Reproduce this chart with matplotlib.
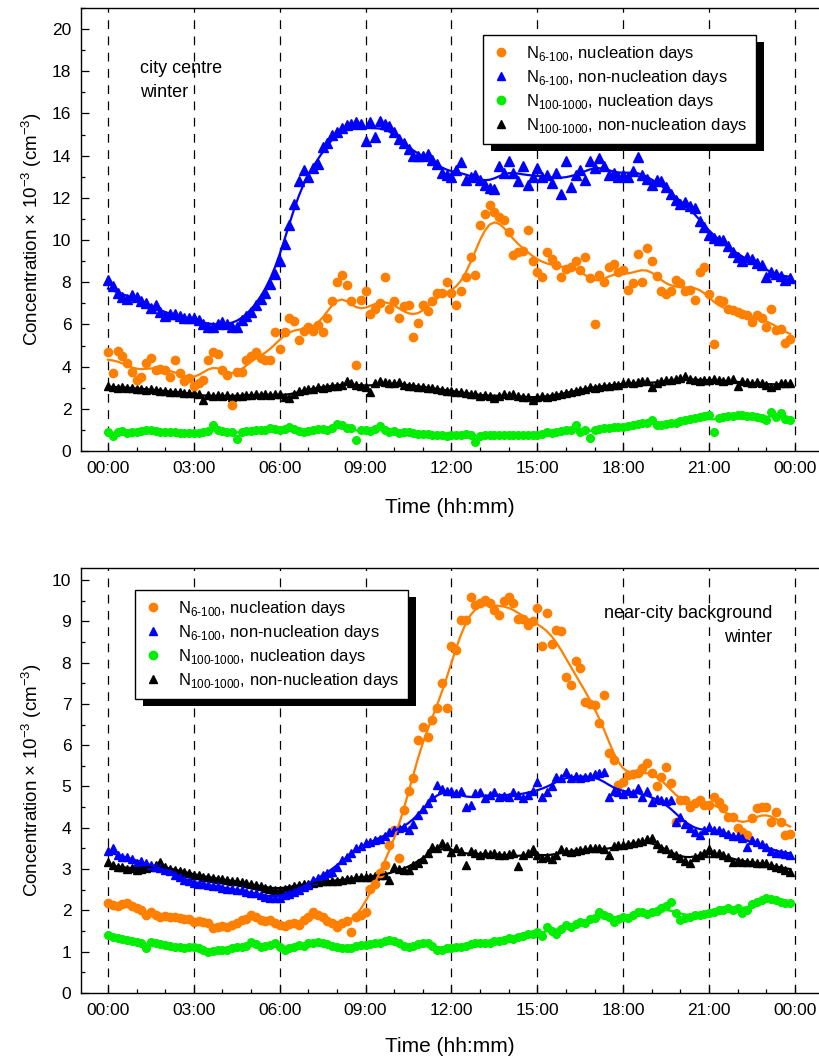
import numpy as np
import matplotlib
matplotlib.use("Agg")
import matplotlib.pyplot as plt
from matplotlib.patches import Rectangle
from matplotlib.transforms import IdentityTransform
from matplotlib.ticker import MultipleLocator

plt.rcParams['font.family'] = ['Liberation Sans', 'DejaVu Sans']
plt.rcParams['mathtext.fontset'] = 'custom'
plt.rcParams['mathtext.rm'] = 'Liberation Sans'

# 10-minute time stamps (hours)
t = np.arange(144) / 6.0
hour_ticks = [0, 3, 6, 9, 12, 15, 18, 21, 24]
hour_labels = ['00:00', '03:00', '06:00', '09:00', '12:00', '15:00', '18:00', '21:00', '00:00']

# ---- city centre, winter ----
cc_n6_nuc = [4.7, 3.7, 4.75, 4.5, 4.15, 3.75, 3.35, 3.5, 4.15, 4.4, 3.85, 3.9,
             3.85, 3.5, 4.3, 3.7, 3.3, 3.45, 3.1, 3.2, 3.35, 4.3, 4.7, 4.6,
             3.85, 3.6, 2.2, 3.75, 3.75, 4.3, 4.5, 4.7, 4.4, 4.3, 4.3, 5.65,
             4.85, 5.65, 6.3, 6.15, 5.25, 5.7, 5.9, 5.7, 5.95, 5.65, 6.3, 7.1,
             8.0, 8.35, 7.85, 7.1, 4.1, 7.15, 7.6, 6.5, 6.75, 7.0, 8.25, 6.75,
             7.1, 6.3, 6.85, 6.9, 5.4, 6.05, 6.9, 6.65, 7.1, 7.5, 7.5, 8.0,
             7.5, 6.9, 7.6, 8.25, 9.2, 8.35, 10.7, 11.25, 11.65, 11.35, 11.1, 10.95,
             10.4, 9.3, 9.45, 9.5, 10.5, 9.0, 8.5, 8.25, 9.45, 9.1, 8.8, 8.25,
             8.65, 8.7, 9.0, 8.6, 9.2, 8.2, 6.0, 8.35, 8.0, 8.7, 8.85, 8.5,
             8.6, 7.65, 7.95, 9.35, 8.0, 9.6, 9.0, 8.3, 7.6, 7.45, 7.6, 8.1,
             7.95, 7.6, 7.65, 7.15, 8.5, 8.7, 7.45, 5.05, 7.15, 7.1, 6.75, 6.7,
             6.6, 6.5, 6.45, 6.1, 6.45, 6.3, 5.9, 6.75, 5.75, 5.8, 5.1, 5.3]
cc_n6_non = [8.1, 7.8, 7.5, 7.3, 7.2, 7.4, 7.3, 7.1, 7.0, 6.8, 6.9, 6.6,
             6.4, 6.5, 6.5, 6.4, 6.3, 6.3, 6.3, 6.2, 6.0, 5.9, 5.9, 6.0,
             6.1, 6.0, 5.9, 5.9, 6.2, 6.4, 6.6, 6.9, 7.2, 7.5, 7.9, 8.4,
             9.0, 9.8, 10.7, 11.7, 12.8, 13.3, 13.0, 13.4, 13.6, 14.4, 14.6, 15.0,
             15.1, 15.3, 15.45, 15.5, 15.6, 15.5, 14.7, 15.6, 14.9, 15.65, 15.5, 15.4,
             15.1, 14.8, 14.6, 14.3, 14.0, 14.0, 14.0, 14.1, 13.8, 13.6, 13.2, 13.1,
             13.0, 13.3, 13.7, 12.85, 13.0, 13.1, 12.85, 12.6, 12.45, 12.4, 13.5, 13.2,
             13.75, 13.2, 12.8, 13.5, 12.6, 13.0, 13.4, 13.0, 13.1, 12.7, 13.2, 12.2,
             13.75, 12.5, 13.1, 13.3, 12.85, 13.75, 13.4, 13.9, 13.5, 13.1, 13.2, 13.0,
             13.1, 13.0, 13.25, 13.95, 13.1, 12.9, 12.6, 12.85, 12.8, 12.5, 12.2, 11.9,
             11.7, 11.8, 11.6, 11.5, 10.9, 10.6, 10.25, 10.1, 10.0, 10.0, 9.7, 9.45,
             9.2, 9.0, 9.2, 9.1, 8.9, 8.8, 8.25, 8.5, 8.4, 8.3, 8.1, 8.2]
cc_n100_nuc = [0.92, 0.7, 0.9, 0.95, 0.83, 0.88, 0.9, 0.95, 0.99, 1.0, 0.95, 0.92,
               0.9, 0.9, 0.88, 0.85, 0.87, 0.85, 0.83, 0.85, 0.9, 0.95, 1.23, 1.0,
               0.95, 0.92, 0.92, 0.55, 0.92, 0.95, 0.97, 1.0, 1.0, 1.0, 1.07, 1.05,
               1.0, 1.05, 1.15, 1.05, 0.95, 0.9, 0.95, 1.0, 1.05, 1.05, 1.0, 1.1,
               1.3, 1.25, 1.1, 1.07, 0.52, 1.0, 1.0, 0.95, 1.05, 1.17, 1.0, 0.9,
               0.95, 0.87, 0.9, 0.88, 0.85, 0.82, 0.8, 0.82, 0.78, 0.78, 0.75, 0.72,
               0.76, 0.78, 0.75, 0.8, 0.78, 0.45, 0.72, 0.76, 0.75, 0.78, 0.76, 0.74,
               0.75, 0.78, 0.74, 0.76, 0.75, 0.78, 0.76, 0.8, 0.9, 0.85, 0.9, 0.95,
               0.98, 1.0, 1.22, 0.9, 1.0, 0.6, 0.99, 1.05, 1.1, 1.08, 1.12, 1.12,
               1.15, 1.2, 1.25, 1.3, 1.32, 1.35, 1.47, 1.25, 1.23, 1.3, 1.32, 1.35,
               1.4, 1.45, 1.5, 1.55, 1.6, 1.65, 1.7, 0.9, 1.55, 1.6, 1.65, 1.68,
               1.7, 1.7, 1.68, 1.65, 1.6, 1.55, 1.47, 1.86, 1.6, 1.8, 1.5, 1.47]
cc_n100_non = [3.1, 3.05, 3.0, 3.05, 3.0, 3.0, 2.95, 2.95, 2.9, 2.95, 2.9, 2.85,
               2.85, 2.8, 2.8, 2.8, 2.75, 2.75, 2.75, 2.7, 2.4, 2.65, 2.6, 2.65,
               2.6, 2.65, 2.55, 2.6, 2.6, 2.65, 2.65, 2.7, 2.65, 2.7, 2.65, 2.7,
               2.7, 2.55, 2.5, 2.7, 2.85, 2.9, 2.95, 2.95, 3.05, 3.0, 3.05, 3.1,
               3.1, 3.15, 3.3, 3.2, 3.15, 3.1, 3.05, 2.8, 3.2, 3.3, 3.25, 3.2,
               3.2, 3.25, 3.15, 3.1, 3.1, 3.05, 3.05, 3.0, 3.0, 2.95, 2.9, 2.85,
               2.85, 2.8, 2.8, 2.75, 2.7, 2.7, 2.6, 2.65, 2.6, 2.5, 2.6, 2.7,
               2.65, 2.7, 2.6, 2.55, 2.55, 2.4, 2.55, 2.6, 2.55, 2.6, 2.65, 2.7,
               2.75, 2.8, 2.85, 2.9, 2.95, 3.05, 3.0, 3.05, 3.1, 3.1, 3.15, 3.15,
               3.2, 3.25, 3.2, 3.25, 3.3, 3.3, 3.05, 3.2, 3.3, 3.35, 3.35, 3.4,
               3.45, 3.55, 3.4, 3.35, 3.3, 3.35, 3.35, 3.4, 3.35, 3.3, 3.35, 3.4,
               3.1, 3.3, 3.25, 3.2, 3.25, 3.2, 3.15, 3.05, 3.15, 3.2, 3.2, 3.2]

# ---- near-city background, winter ----
bg_n6_nuc = [2.17, 2.13, 2.1, 2.15, 2.17, 2.1, 2.05, 2.01, 1.89, 1.95, 1.9, 1.85,
             1.87, 1.85, 1.83, 1.81, 1.78, 1.8, 1.73, 1.75, 1.72, 1.69, 1.57, 1.6,
             1.62, 1.6, 1.65, 1.7, 1.77, 1.8, 1.89, 1.85, 1.77, 1.75, 1.77, 1.69,
             1.65, 1.62, 1.67, 1.7, 1.65, 1.77, 1.85, 1.97, 1.9, 1.85, 1.75, 1.7,
             1.61, 1.7, 1.75, 1.48, 1.85, 1.9, 1.97, 2.53, 2.65, 2.9, 3.1, 3.58,
             3.95, 3.26, 4.43, 4.9, 5.2, 6.13, 6.45, 6.2, 6.61, 6.89, 7.5, 6.9,
             8.39, 8.3, 9.03, 9.03, 9.6, 9.4, 9.45, 9.52, 9.45, 9.27, 9.15, 9.5,
             9.6, 9.45, 9.05, 9.05, 8.91, 9.0, 9.33, 8.4, 9.2, 8.45, 8.8, 8.77,
             7.66, 7.46, 8.03, 7.87, 7.05, 7.0, 6.97, 6.53, 7.22, 5.8, 5.65, 5.04,
             5.12, 5.27, 5.3, 5.33, 5.44, 5.56, 5.33, 5.0, 5.24, 5.48, 5.08, 4.15,
             4.67, 4.67, 4.51, 4.6, 4.67, 4.55, 4.55, 4.75, 4.63, 4.47, 4.27, 4.27,
             3.99, 3.91, 3.83, 4.23, 4.47, 4.51, 4.51, 4.15, 4.39, 4.15, 3.83, 3.85]
bg_n6_non = [3.45, 3.5, 3.34, 3.3, 3.3, 3.25, 3.14, 3.2, 3.14, 3.1, 3.05, 3.02,
             2.98, 2.95, 2.86, 2.8, 2.74, 2.7, 2.66, 2.65, 2.63, 2.62, 2.6, 2.58,
             2.55, 2.53, 2.52, 2.5, 2.5, 2.45, 2.43, 2.41, 2.38, 2.33, 2.29, 2.3,
             2.29, 2.37, 2.4, 2.45, 2.5, 2.57, 2.62, 2.74, 2.78, 2.85, 2.9, 2.94,
             3.05, 3.22, 3.3, 3.4, 3.5, 3.55, 3.62, 3.65, 3.7, 3.74, 3.8, 3.9,
             3.95, 4.0, 4.03, 3.95, 4.1, 4.31, 4.45, 4.6, 4.75, 5.04, 4.95, 4.9,
             4.9, 4.85, 4.9, 4.51, 4.55, 4.85, 4.87, 4.71, 4.8, 4.87, 4.75, 4.78,
             4.75, 4.87, 4.8, 4.72, 4.8, 4.9, 5.12, 4.75, 4.87, 5.0, 5.24, 5.2,
             5.36, 5.2, 5.25, 5.2, 5.22, 5.25, 5.3, 5.33, 5.36, 4.75, 4.9, 4.87,
             4.83, 4.9, 4.85, 4.96, 4.75, 4.9, 4.63, 4.7, 4.68, 4.65, 4.67, 4.15,
             4.27, 4.1, 3.99, 3.9, 3.83, 3.95, 4.03, 3.95, 3.95, 3.91, 3.85, 3.79,
             3.8, 3.75, 3.54, 3.71, 3.65, 3.6, 3.54, 3.45, 3.38, 3.4, 3.36, 3.34]
bg_n100_nuc = [1.4, 1.35, 1.32, 1.3, 1.28, 1.27, 1.24, 1.2, 1.08, 1.24, 1.2, 1.18,
               1.16, 1.14, 1.12, 1.12, 1.1, 1.12, 1.12, 1.08, 1.05, 1.0, 1.02, 1.03,
               1.04, 1.05, 1.1, 1.12, 1.12, 1.15, 1.24, 1.18, 1.12, 1.14, 1.16, 1.2,
               1.12, 1.04, 1.08, 1.12, 1.16, 1.15, 1.2, 1.22, 1.24, 1.22, 1.18, 1.15,
               1.12, 1.1, 1.08, 1.1, 1.14, 1.16, 1.16, 1.18, 1.2, 1.22, 1.25, 1.28,
               1.25, 1.2, 1.15, 1.12, 1.15, 1.18, 1.2, 1.22, 1.15, 1.04, 1.04, 1.08,
               1.1, 1.12, 1.12, 1.15, 1.18, 1.2, 1.2, 1.22, 1.2, 1.25, 1.25, 1.28,
               1.32, 1.3, 1.35, 1.38, 1.44, 1.42, 1.48, 1.37, 1.6, 1.5, 1.44, 1.55,
               1.64, 1.6, 1.68, 1.73, 1.7, 1.78, 1.81, 1.97, 1.89, 1.85, 1.73, 1.8,
               1.85, 1.81, 1.9, 1.97, 1.95, 1.92, 1.95, 1.98, 2.05, 2.1, 2.21, 1.93,
               1.77, 1.82, 1.85, 1.89, 1.9, 1.92, 1.93, 1.95, 2.0, 2.02, 2.05, 2.02,
               2.05, 1.93, 2.0, 2.15, 2.21, 2.25, 2.29, 2.27, 2.25, 2.2, 2.18, 2.17]
bg_n100_non = [3.16, 3.1, 3.06, 3.05, 3.0, 3.02, 2.98, 3.0, 3.02, 3.05, 3.1, 3.18,
               3.05, 3.0, 2.97, 2.95, 2.94, 2.9, 2.86, 2.85, 2.82, 2.8, 2.78, 2.77,
               2.75, 2.74, 2.72, 2.7, 2.68, 2.66, 2.63, 2.61, 2.6, 2.55, 2.52, 2.5,
               2.5, 2.52, 2.55, 2.6, 2.62, 2.65, 2.65, 2.66, 2.68, 2.7, 2.7, 2.72,
               2.7, 2.73, 2.75, 2.77, 2.8, 2.8, 2.82, 2.82, 2.84, 2.86, 2.86, 2.73,
               3.06, 3.0, 2.98, 2.98, 3.1, 3.14, 3.25, 3.38, 3.54, 3.5, 3.62, 3.55,
               3.42, 3.5, 3.44, 3.1, 3.45, 3.4, 3.34, 3.38, 3.36, 3.4, 3.35, 3.34,
               3.36, 3.38, 3.07, 3.35, 3.4, 3.48, 3.35, 3.26, 3.3, 3.25, 3.35, 3.48,
               3.45, 3.42, 3.44, 3.46, 3.48, 3.5, 3.51, 3.5, 3.48, 3.34, 3.55, 3.58,
               3.58, 3.6, 3.62, 3.66, 3.68, 3.72, 3.75, 3.6, 3.5, 3.48, 3.4, 3.35,
               3.26, 3.2, 3.14, 3.3, 3.35, 3.4, 3.48, 3.4, 3.38, 3.35, 3.3, 3.18,
               3.2, 3.18, 3.17, 3.18, 3.15, 3.14, 3.14, 3.1, 3.05, 3.02, 2.98, 2.94]

ORANGE = '#FF8000'
BLUE = '#0000FF'
GREEN = '#00EE00'
BLACK = '#000000'


def smooth(y, width=0.4):
    # gaussian kernel average over time (hours)
    y = np.asarray(y, float)
    w = np.exp(-0.5 * ((t[:, None] - t[None, :]) / width) ** 2)
    return (w @ y) / w.sum(axis=1)


def lab(sub, txt):
    return 'N$_{\\mathregular{' + sub + '}}$, ' + txt


def draw_panel(ax, series, ymax, major, minor, xpad):
    for y, col, mk, ms in series:
        ax.plot(t, y, linestyle='none', marker=mk, color=col, ms=ms,
                mec=col, zorder=3)
    for y, col, mk, ms in series:
        ax.plot(t, smooth(y), color=col, lw=1.6, zorder=4)
    for h in hour_ticks:
        ax.axvline(h, color='k', ls=(0, (7, 6)), lw=0.9, zorder=1)
    ax.set_xlim(-0.943, 24.84)
    ax.set_ylim(0, ymax)
    ax.set_xticks(hour_ticks)
    ax.set_xticklabels(hour_labels)
    ax.xaxis.set_minor_locator(MultipleLocator(1))
    ax.yaxis.set_major_locator(MultipleLocator(major))
    ax.yaxis.set_minor_locator(MultipleLocator(minor))
    ax.tick_params(which='both', direction='in', top=False, right=False,
                   labelsize=12.5, width=0.9)
    ax.tick_params(which='major', length=6, pad=7)
    ax.tick_params(which='minor', length=3)
    ax.spines['right'].set_visible(False)
    for s in ['left', 'bottom', 'top']:
        ax.spines[s].set_linewidth(1.0)
    ax.set_xlabel('Time (hh:mm)', fontsize=15, labelpad=xpad)
    ax.set_ylabel('Concentration $\\times$ 10$^{-3}$ (cm$^{-3}$)', fontsize=13.5,
                  labelpad=6)


def add_legend(ax, anchor):
    handles = [
        plt.Line2D([], [], ls='none', marker='o', color=ORANGE, ms=6),
        plt.Line2D([], [], ls='none', marker='^', color=BLUE, ms=6),
        plt.Line2D([], [], ls='none', marker='o', color=GREEN, ms=6),
        plt.Line2D([], [], ls='none', marker='^', color=BLACK, ms=6),
    ]
    labels = [lab('6\u2010100', 'nucleation days'),
              lab('6\u2010100', 'non-nucleation days'),
              lab('100\u20101000', 'nucleation days'),
              lab('100\u20101000', 'non-nucleation days')]
    leg = ax.legend(handles, labels, loc='upper left', bbox_to_anchor=anchor,
                    borderaxespad=0, fontsize=12, frameon=True, fancybox=False,
                    framealpha=1, edgecolor='k', handlelength=1.0,
                    handletextpad=1.0, labelspacing=0.3, borderpad=0.55)
    leg.get_frame().set_linewidth(1.0)
    return leg


fig = plt.figure(figsize=(8.19, 10.58), dpi=100)
W, H = 819.0, 1058.0
ax1 = fig.add_axes([81 / W, (H - 451) / H, (819 - 81) / W, 443 / H])
ax2 = fig.add_axes([81 / W, (H - 993) / H, (819 - 81) / W, 425.4 / H])

draw_panel(ax1, [(cc_n100_nuc, GREEN, 'o', 5.5),
                 (cc_n100_non, BLACK, '^', 5.5),
                 (cc_n6_nuc, ORANGE, 'o', 6),
                 (cc_n6_non, BLUE, '^', 6.5)], 21, 2, 1, 16)
draw_panel(ax2, [(bg_n100_nuc, GREEN, 'o', 5.5),
                 (bg_n100_non, BLACK, '^', 5.5),
                 (bg_n6_nuc, ORANGE, 'o', 6),
                 (bg_n6_non, BLUE, '^', 6)], 10.3, 1, 0.5, 14)

ax1.text(0.08, 0.883, 'city centre\nwinter', transform=ax1.transAxes,
         fontsize=13, ha='left', va='top', linespacing=1.55)
ax2.text(0.937, 0.912, 'near-city background\nwinter', transform=ax2.transAxes,
         fontsize=13, ha='right', va='top', linespacing=1.55, multialignment='right')

leg1 = add_legend(ax1, (402 / 738, (451 - 35) / 443))
leg2 = add_legend(ax2, (54 / 738, (993 - 590) / 425.4))

# heavy black drop shadow behind each legend box
fig.canvas.draw()
for ax, leg in [(ax1, leg1), (ax2, leg2)]:
    bb = leg.get_frame().get_window_extent()
    sh = Rectangle((bb.x0 + 8, bb.y0 - 7), bb.width, bb.height, transform=IdentityTransform(),
                   facecolor='k', edgecolor='none', zorder=4.9, clip_on=False)
    ax.add_artist(sh)

fig.savefig('out.png', dpi=100)
